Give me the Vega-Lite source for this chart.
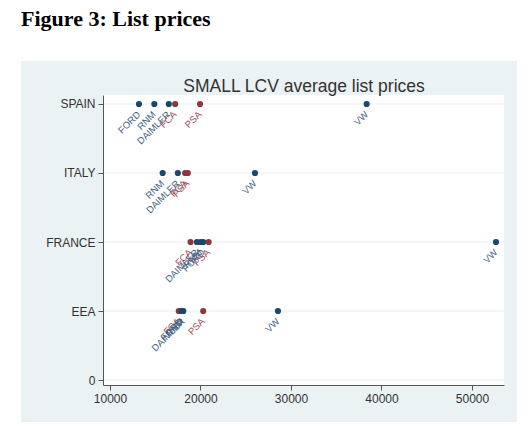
{
  "$schema": "https://vega.github.io/schema/vega-lite/v6.json",
  "width": 401,
  "height": 290,
  "autosize": {"type": "none"},
  "padding": {"left": 103, "top": 95, "right": 26, "bottom": 54},
  "background": "white",
  "title": {
    "text": "Figure 3: List prices",
    "anchor": "start",
    "frame": "group",
    "dx": -82,
    "offset": 30,
    "font": "Liberation Serif",
    "fontSize": 22,
    "fontWeight": "bold",
    "color": "#000000",
    "zindex": 2
  },
  "config": {"view": {"stroke": null}, "font": "Liberation Sans"},
  "data": {
    "values": [
      {"country": 4, "firm": "FORD", "price": 13200, "group": "a"},
      {"country": 4, "firm": "RNM", "price": 14900, "group": "a"},
      {"country": 4, "firm": "DAIMLER", "price": 16500, "group": "a"},
      {"country": 4, "firm": "FCA", "price": 17200, "group": "b"},
      {"country": 4, "firm": "PSA", "price": 19950, "group": "b"},
      {"country": 4, "firm": "VW", "price": 38360, "group": "a"},
      {"country": 3, "firm": "RNM", "price": 15820, "group": "a"},
      {"country": 3, "firm": "DAIMLER", "price": 17500, "group": "a"},
      {"country": 3, "firm": "FCA", "price": 18300, "group": "b"},
      {"country": 3, "firm": "PSA", "price": 18600, "group": "b"},
      {"country": 3, "firm": "VW", "price": 26020, "group": "a"},
      {"country": 2, "firm": "FCA", "price": 18900, "group": "b"},
      {"country": 2, "firm": "DAIMLER", "price": 19600, "group": "a"},
      {"country": 2, "firm": "RNM", "price": 20000, "group": "a"},
      {"country": 2, "firm": "FORD", "price": 20300, "group": "a"},
      {"country": 2, "firm": "PSA", "price": 20900, "group": "b"},
      {"country": 2, "firm": "VW", "price": 52650, "group": "a"},
      {"country": 1, "firm": "FCA", "price": 17600, "group": "b"},
      {"country": 1, "firm": "FORD", "price": 17900, "group": "a"},
      {"country": 1, "firm": "RNM", "price": 18000, "group": "a"},
      {"country": 1, "firm": "DAIMLER", "price": 18100, "group": "a"},
      {"country": 1, "firm": "PSA", "price": 20300, "group": "b"},
      {"country": 1, "firm": "VW", "price": 28560, "group": "a"}
    ]
  },
  "resolve": {"axis": {"x": "independent", "y": "independent"}, "scale": {"color": "independent"}},
  "layer": [
    {
      "data": {"values": [{}]},
      "mark": {"type": "rect", "color": "#eaf2f3"},
      "encoding": {
        "x": {"datum": 166, "type": "quantitative", "scale": {"domain": [9227, 53536], "nice": false, "zero": false}, "axis": null},
        "x2": {"datum": 54972},
        "y": {"datum": -0.609, "type": "quantitative", "scale": {"domain": [-0.072, 4.13], "nice": false, "zero": false}, "axis": null},
        "y2": {"datum": 4.623}
      }
    },
    {
      "data": {"values": [{}]},
      "mark": {"type": "rect", "color": "#ffffff"},
      "encoding": {
        "x": {"datum": 9227, "type": "quantitative", "axis": null},
        "x2": {"datum": 53536},
        "y": {"datum": -0.072, "type": "quantitative", "axis": null},
        "y2": {"datum": 4.13}
      }
    },
    {
      "data": {"values": [{"v": 0}, {"v": 1}, {"v": 2}, {"v": 3}, {"v": 4}]},
      "mark": {"type": "rule", "color": "#e6eef1", "strokeWidth": 1},
      "encoding": {
        "y": {
          "field": "v",
          "type": "quantitative",
          "axis": {
            "orient": "left",
            "values": [0, 1, 2, 3, 4],
            "labelExpr": "datum.value == 4 ? 'SPAIN' : datum.value == 3 ? 'ITALY' : datum.value == 2 ? 'FRANCE' : datum.value == 1 ? 'EEA' : '0'",
            "title": null,
            "grid": false,
            "labelFontSize": 12,
            "labelColor": "#333333",
            "labelPadding": 3,
            "tickSize": 5,
            "tickColor": "#555555",
            "domainColor": "#555555",
            "zindex": 1
          }
        }
      }
    },
    {
      "mark": {"type": "circle", "size": 38, "opacity": 1},
      "encoding": {
        "x": {
          "field": "price",
          "type": "quantitative",
          "scale": {"domain": [9227, 53536], "nice": false, "zero": false},
          "axis": {
            "orient": "bottom",
            "values": [10000, 20000, 30000, 40000, 50000],
            "format": "d",
            "title": null,
            "grid": false,
            "labelFontSize": 12,
            "labelColor": "#333333",
            "labelPadding": 3,
            "tickSize": 5,
            "tickColor": "#555555",
            "domainColor": "#555555",
            "zindex": 1
          }
        },
        "y": {"field": "country", "type": "quantitative", "axis": null},
        "color": {
          "field": "group",
          "type": "nominal",
          "scale": {"domain": ["a", "b"], "range": ["#1a476f", "#90353b"]},
          "legend": null
        }
      }
    },
    {
      "mark": {
        "type": "text",
        "angle": -45,
        "align": "right",
        "baseline": "middle",
        "radius": 9,
        "theta": 3.14159,
        "fontSize": 9.5
      },
      "encoding": {
        "x": {
          "field": "price",
          "type": "quantitative",
          "axis": {
            "orient": "top",
            "title": "SMALL LCV average list prices",
            "labels": false,
            "ticks": false,
            "domain": false,
            "grid": false,
            "titleFontSize": 17.5,
            "titleFontWeight": "normal",
            "titleColor": "#333333",
            "titlePadding": 0,
            "zindex": 1
          }
        },
        "y": {"field": "country", "type": "quantitative", "axis": null},
        "text": {"field": "firm"},
        "color": {
          "field": "group",
          "type": "nominal",
          "scale": {"domain": ["a", "b"], "range": ["#3f5f82", "#a34b56"]},
          "legend": null
        }
      }
    }
  ]
}
